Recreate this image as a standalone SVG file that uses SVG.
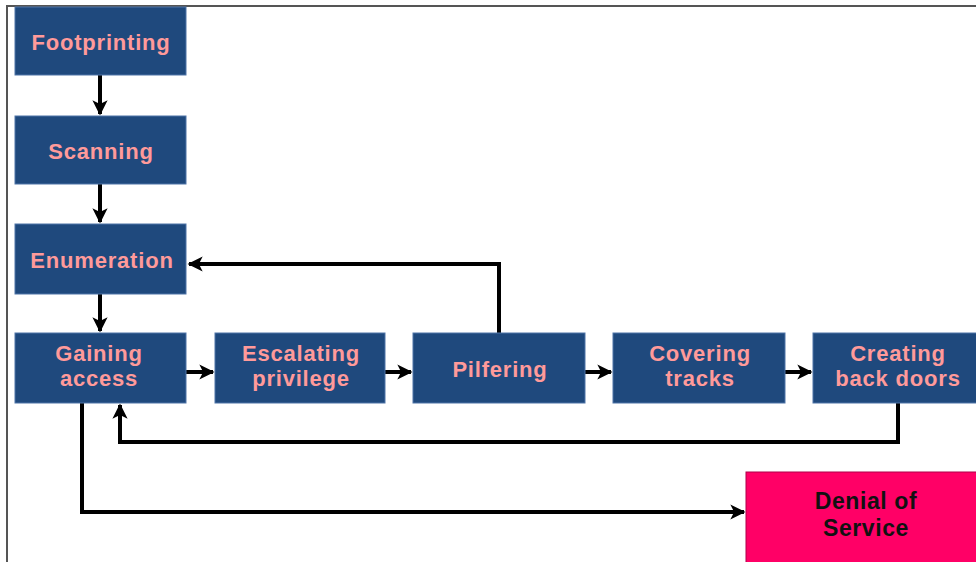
<svg xmlns="http://www.w3.org/2000/svg" width="976" height="562" viewBox="0 0 976 562">
  <style>
    .box { fill: #1F497D; stroke: #4F75A8; stroke-width: 1; }
    .dos { fill: #FF0066; stroke: #B0004A; stroke-width: 1; }
    .lbl { font-family: "Liberation Sans", Arial, sans-serif; font-weight: bold; font-size: 22px; letter-spacing: 0.8px; fill: #FF9A9A; text-anchor: middle; }
    .lbl-dark { font-family: "Liberation Sans", Arial, sans-serif; font-weight: bold; font-size: 23px; letter-spacing: 0.6px; fill: #111111; text-anchor: middle; }
    .wire { fill: none; stroke: #000000; stroke-width: 4; stroke-linejoin: miter; }
  </style>
  <defs>
    <marker id="arrow" viewBox="0 0 10 10" refX="9" refY="5" markerWidth="3.8" markerHeight="3.8" orient="auto" markerUnits="strokeWidth">
      <path d="M0,0 L10,5 L0,10 L2.5,5 Z" fill="#000000"/>
    </marker>
  </defs>

  <rect width="976" height="562" fill="#FFFFFF"/>
  <!-- frame -->
  <path d="M7,562 V6 H976" fill="none" stroke="#555555" stroke-width="2"/>

  <!-- connectors -->
  <g id="connectors">
    <path class="wire" d="M100,75 V114" marker-end="url(#arrow)"/>
    <path class="wire" d="M100,184 V222" marker-end="url(#arrow)"/>
    <path class="wire" d="M100,294 V331" marker-end="url(#arrow)"/>
    <path class="wire" d="M186,372 H213" marker-end="url(#arrow)"/>
    <path class="wire" d="M385,372 H411" marker-end="url(#arrow)"/>
    <path class="wire" d="M585,372 H611" marker-end="url(#arrow)"/>
    <path class="wire" d="M785,372 H811" marker-end="url(#arrow)"/>
    <path class="wire" d="M499,333 V264 H189" marker-end="url(#arrow)"/>
    <path class="wire" d="M898,403 V442 H120 V405" marker-end="url(#arrow)"/>
    <path class="wire" d="M82,403 V512 H744" marker-end="url(#arrow)"/>
  </g>

  <g id="footprinting">
    <rect class="box" x="15" y="7" width="171" height="68"/>
    <text class="lbl" x="101" y="50">Footprinting</text>
  </g>
  <g id="scanning">
    <rect class="box" x="15" y="116" width="171" height="68"/>
    <text class="lbl" x="101" y="159">Scanning</text>
  </g>
  <g id="enumeration">
    <rect class="box" x="15" y="224" width="171" height="70"/>
    <text class="lbl" x="102" y="268">Enumeration</text>
  </g>
  <g id="gaining-access">
    <rect class="box" x="15" y="333" width="171" height="70"/>
    <text class="lbl" x="99" y="361">Gaining</text>
    <text class="lbl" x="99" y="386">access</text>
  </g>
  <g id="escalating-privilege">
    <rect class="box" x="215" y="333" width="170" height="70"/>
    <text class="lbl" x="301" y="361">Escalating</text>
    <text class="lbl" x="301" y="386">privilege</text>
  </g>
  <g id="pilfering">
    <rect class="box" x="413" y="333" width="172" height="70"/>
    <text class="lbl" x="500" y="377">Pilfering</text>
  </g>
  <g id="covering-tracks">
    <rect class="box" x="613" y="333" width="172" height="70"/>
    <text class="lbl" x="700" y="361">Covering</text>
    <text class="lbl" x="700" y="386">tracks</text>
  </g>
  <g id="creating-back-doors">
    <rect class="box" x="813" y="333" width="170" height="70"/>
    <text class="lbl" x="898" y="361">Creating</text>
    <text class="lbl" x="898" y="386">back doors</text>
  </g>
  <g id="denial-of-service">
    <rect class="dos" x="746" y="472" width="240" height="100"/>
    <text class="lbl-dark" x="866" y="509">Denial of</text>
    <text class="lbl-dark" x="866" y="536">Service</text>
  </g>
</svg>
